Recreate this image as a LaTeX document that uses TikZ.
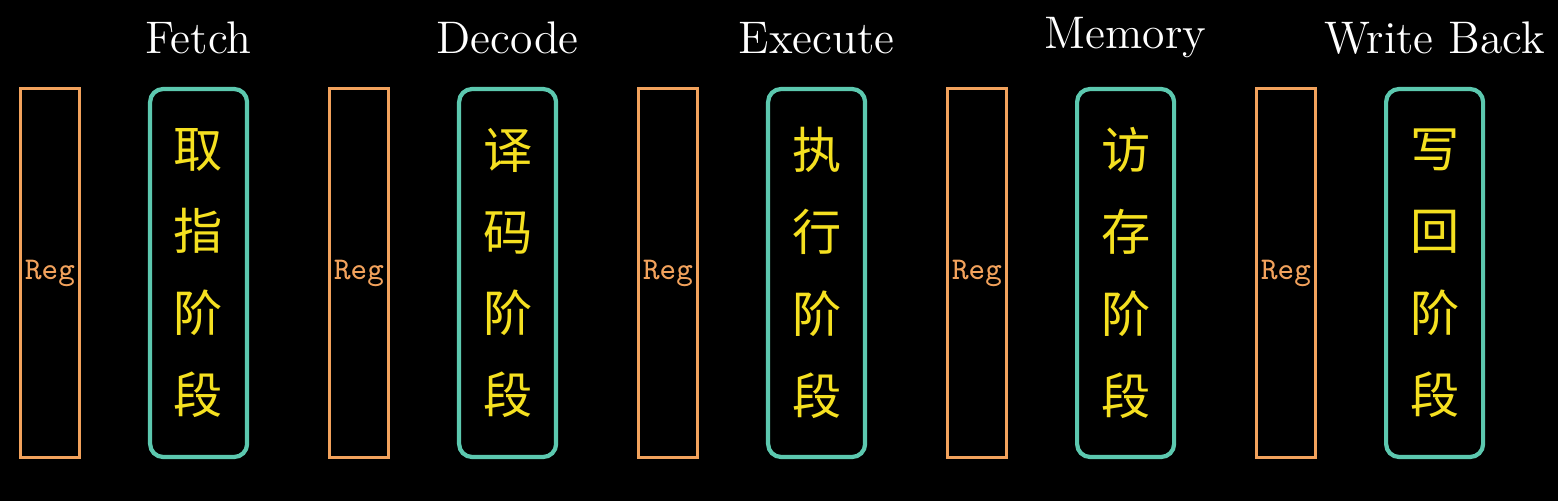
\documentclass[tikz,border=0pt]{standalone}
\usepackage{fontspec}
\newfontfamily\cjk{Noto Sans CJK SC}
\usepackage{xcolor}
\usetikzlibrary{positioning}
\definecolor{regorange}{HTML}{F2A25C}
\definecolor{stageteal}{HTML}{5CC8AF}
\definecolor{cjkyellow}{HTML}{F5E020}
\tikzset{
  reg/.style={draw=regorange, line width=0.85pt, minimum width=0.59cm, minimum height=3.69cm,
    inner sep=0pt, text=regorange, font=\ttfamily\fontsize{9}{11}\selectfont},
  stage/.style={draw=stageteal, line width=1.2pt, rounded corners=0.13cm, minimum width=0.97cm,
    minimum height=3.68cm, inner sep=0pt, align=center, text=cjkyellow,
    font=\cjk\fontsize{14}{23.3}\selectfont},
  title/.style={text=white, inner sep=0pt, font=\fontsize{13}{15}\selectfont}
}
\begin{document}
\begin{tikzpicture}
        \def\gap{3.09}

        %background
        \fill[black] (0,0) rectangle (15.58,5.01);

        %pipeline stages
        \foreach \i/\name/\chA/\chB/\chC/\chD in {0/Fetch/取/指/阶/段, 1/Decode/译/码/阶/段,
            2/Execute/执/行/阶/段, 3/Memory/访/存/阶/段, 4/Write Back/写/回/阶/段} {
          \node[reg] (reg\i) at (0.50+\i*\gap, 2.28) {Reg};
          \node[stage, right=0.67cm of reg\i] (stage\i) {\chA\\\chB\\\chC\\\chD};
          \node[title] (title\i) at ([yshift=0.49cm]stage\i.north) {\name};
        }
\end{tikzpicture}
\end{document}
